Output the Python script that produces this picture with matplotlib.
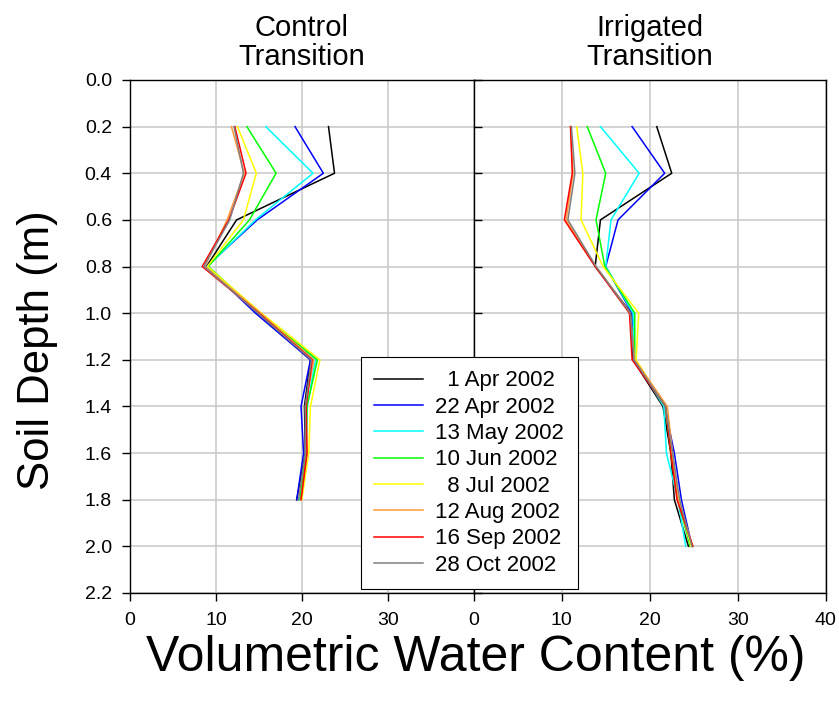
import matplotlib
matplotlib.use('Agg')
import matplotlib.pyplot as plt

plt.rcParams['font.family'] = ['Liberation Sans', 'DejaVu Sans']

dates = ['  1 Apr 2002', '22 Apr 2002', '13 May 2002', '10 Jun 2002',
         '  8 Jul 2002', '12 Aug 2002', '16 Sep 2002', '28 Oct 2002']
colors = ['black', '#0000ff', '#00ffff', '#00ff00',
          '#ffff00', '#ff9a3c', '#ff0000', '#808080']

depth_control = [0.2, 0.4, 0.6, 0.8, 1.0, 1.2, 1.4, 1.6, 1.8]
depth_irrigated = [0.2, 0.4, 0.6, 0.8, 1.0, 1.2, 1.4, 1.6, 1.8, 2.0]

# volumetric water content (%) per sampling date
control = [
    [23.1, 23.8, 12.4, 8.9, 14.9, 21.0, 20.3, 20.4, 19.4],
    [19.2, 22.5, 14.8, 8.9, 14.6, 21.0, 19.9, 20.2, 19.4],
    [15.8, 21.3, 14.6, 9.0, 15.0, 21.6, 20.6, 20.5, 19.7],
    [13.6, 17.0, 13.9, 9.1, 15.1, 21.8, 20.6, 20.5, 19.8],
    [12.5, 14.7, 13.2, 9.0, 15.3, 22.1, 21.0, 20.8, 20.0],
    [11.8, 13.3, 11.3, 8.7, 15.2, 21.4, 20.4, 20.6, 19.9],
    [12.2, 13.5, 11.5, 8.4, 15.0, 21.2, 20.5, 20.6, 19.9],
    [12.1, 13.2, 11.6, 8.6, 14.9, 21.1, 20.4, 20.4, 19.6],
]
irrigated = [
    [20.8, 22.5, 14.4, 13.8, 17.9, 18.1, 21.5, 22.4, 22.8, 24.4],
    [18.0, 21.7, 16.4, 15.0, 18.0, 18.2, 21.7, 22.8, 23.6, 24.8],
    [14.4, 18.8, 15.6, 15.0, 18.1, 18.3, 21.6, 21.9, 23.2, 24.1],
    [12.9, 15.0, 13.9, 14.9, 18.3, 18.3, 21.8, 22.4, 23.2, 24.6],
    [11.7, 12.4, 12.2, 14.7, 18.75, 18.45, 21.8, 22.5, 23.3, 24.7],
    [11.0, 11.3, 10.5, 13.9, 17.8, 18.3, 22.0, 22.6, 23.2, 24.9],
    [11.0, 11.2, 10.3, 13.8, 17.7, 18.0, 21.8, 22.4, 23.1, 24.9],
    [11.1, 11.5, 10.7, 13.9, 17.8, 18.2, 21.8, 22.6, 23.4, 24.8],
]

fig = plt.figure(figsize=(8.39, 7.04), dpi=100)
ax1 = fig.add_axes([0.155, 0.1577, 0.4096, 0.7287])
ax2 = fig.add_axes([0.5646, 0.1577, 0.4196, 0.7287])

yticks = [round(0.2 * i, 1) for i in range(12)]

for ax, depth, data, title in [(ax1, depth_control, control, 'Control\nTransition'),
                               (ax2, depth_irrigated, irrigated, 'Irrigated\nTransition')]:
    for vals, c, lab in zip(data, colors, dates):
        ax.plot(vals, depth, color=c, lw=1.1, label=lab, zorder=3)
    ax.set_xlim(0, 40)
    ax.set_ylim(2.2, 0.0)
    ax.set_yticks(yticks)
    ax.grid(True, color='#c8c8c8', lw=1.1, zorder=0)
    ax.set_axisbelow(True)
    for s in ax.spines.values():
        s.set_linewidth(1.0)
    ax.set_title(title, fontsize=21, linespacing=1.05, pad=11)
    ax.tick_params(axis='x', direction='out', length=6, width=1, labelsize=14, pad=8)

ax1.set_xticks([0, 10, 20, 30])
ax1.set_yticklabels([f'{v:.1f}' for v in yticks])
ax1.tick_params(axis='y', direction='out', length=6, width=1, labelsize=14, pad=7)
ax2.set_xticks([0, 10, 20, 30, 40])
ax2.tick_params(axis='y', direction='in', length=6, width=1, labelleft=False)

fig.text(38 / 839, 0.503, 'Soil Depth (m)', rotation=90, fontsize=31.5,
         ha='center', va='center')
fig.text(476 / 839, 0.0653, 'Volumetric Water Content (%)', fontsize=36,
         ha='center', va='center')

handles, labels = ax1.get_legend_handles_labels()
leg = fig.legend(handles, labels, loc='upper left',
                 bbox_to_anchor=(361 / 839, 1 - 357 / 704),
                 fontsize=16, frameon=True, fancybox=False, framealpha=1,
                 handlelength=2.2, handletextpad=0.55, labelspacing=0.24,
                 borderpad=0.6, borderaxespad=0)
leg.get_frame().set_edgecolor('black')
leg.get_frame().set_linewidth(0.8)

fig.savefig('out.png', dpi=100)
